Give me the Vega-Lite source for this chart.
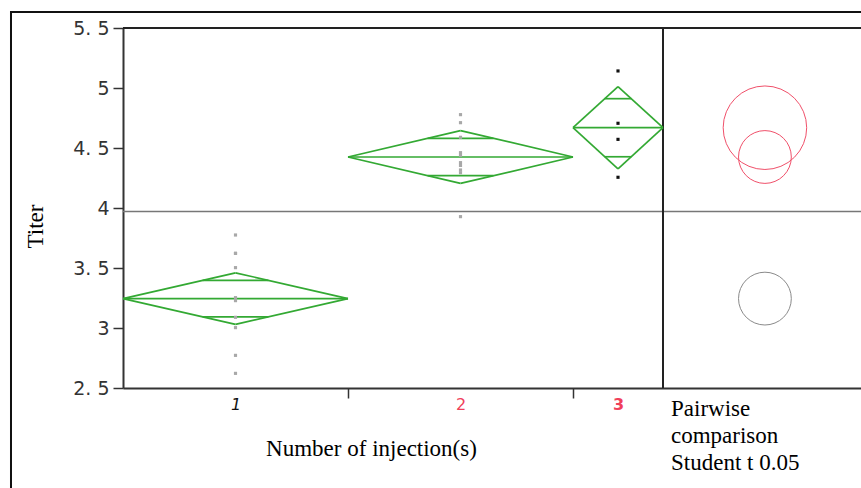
{
  "$schema": "https://vega.github.io/schema/vega-lite/v6.json",
  "width": 738,
  "height": 360,
  "autosize": {"type": "none"},
  "padding": {"left": 123, "top": 28, "right": 0, "bottom": 100},
  "background": "white",
  "config": {"view": {"stroke": null}},
  "datasets": {
    "points": [
      {"group": "1", "center": 5, "titer": 3.775},
      {"group": "1", "center": 5, "titer": 3.622},
      {"group": "1", "center": 5, "titer": 3.622},
      {"group": "1", "center": 5, "titer": 3.503},
      {"group": "1", "center": 5, "titer": 3.253},
      {"group": "1", "center": 5, "titer": 3.228},
      {"group": "1", "center": 5, "titer": 3.089},
      {"group": "1", "center": 5, "titer": 3.003},
      {"group": "1", "center": 5, "titer": 2.772},
      {"group": "1", "center": 5, "titer": 2.622},
      {"group": "2", "center": 15, "titer": 4.778},
      {"group": "2", "center": 15, "titer": 4.711},
      {"group": "2", "center": 15, "titer": 4.589},
      {"group": "2", "center": 15, "titer": 4.461},
      {"group": "2", "center": 15, "titer": 4.439},
      {"group": "2", "center": 15, "titer": 4.378},
      {"group": "2", "center": 15, "titer": 4.355},
      {"group": "2", "center": 15, "titer": 4.317},
      {"group": "2", "center": 15, "titer": 4.294},
      {"group": "2", "center": 15, "titer": 3.928},
      {"group": "3", "center": 22, "titer": 5.142},
      {"group": "3", "center": 22, "titer": 4.706},
      {"group": "3", "center": 22, "titer": 4.572},
      {"group": "3", "center": 22, "titer": 4.256}
    ],
    "groups": [
      {"group": "1", "n": 10, "x0": 0, "x1": 10, "center": 5, "mean": 3.245, "upper": 3.46, "lower": 3.03, "ovu": 3.397, "ovl": 3.093, "ox0": 3.54, "ox1": 6.46, "radius": 0.22},
      {"group": "2", "n": 10, "x0": 10, "x1": 20, "center": 15, "mean": 4.425, "upper": 4.645, "lower": 4.205, "ovu": 4.581, "ovl": 4.269, "ox0": 13.54, "ox1": 16.46, "radius": 0.22},
      {"group": "3", "n": 4, "x0": 20, "x1": 24, "center": 22, "mean": 4.669, "upper": 5.011, "lower": 4.327, "ovu": 4.911, "ovl": 4.427, "ox0": 21.41, "ox1": 22.59, "radius": 0.348}
    ]
  },
  "layer": [
    {
      "data": {"values": [{}]},
      "mark": {"type": "rect", "fill": null, "stroke": "#111", "strokeWidth": 2, "clip": false},
      "encoding": {
        "x": {"datum": -4.978, "type": "quantitative"},
        "x2": {"datum": 34},
        "y": {"datum": 5.633, "type": "quantitative"},
        "y2": {"datum": 1.3}
      }
    },
    {
      "data": {"values": [{}]},
      "mark": {"type": "rule", "color": "#777", "strokeWidth": 1.5},
      "encoding": {"y": {"datum": 3.97, "type": "quantitative"}}
    },
    {
      "data": {"values": [{}]},
      "mark": {"type": "rule", "color": "#222", "strokeWidth": 2},
      "encoding": {"y": {"datum": 5.5, "type": "quantitative"}}
    },
    {
      "data": {"values": [{}]},
      "mark": {"type": "rule", "color": "#222", "strokeWidth": 2},
      "encoding": {"x": {"datum": 24, "type": "quantitative"}}
    },
    {
      "data": {"name": "groups"},
      "mark": {"type": "rule", "color": "#33a933", "strokeWidth": 1.7},
      "encoding": {"x": {"field": "x0", "type": "quantitative"}, "y": {"field": "mean", "type": "quantitative"}, "x2": {"field": "center"}, "y2": {"field": "upper"}}
    },
    {
      "data": {"name": "groups"},
      "mark": {"type": "rule", "color": "#33a933", "strokeWidth": 1.7},
      "encoding": {"x": {"field": "center", "type": "quantitative"}, "y": {"field": "upper", "type": "quantitative"}, "x2": {"field": "x1"}, "y2": {"field": "mean"}}
    },
    {
      "data": {"name": "groups"},
      "mark": {"type": "rule", "color": "#33a933", "strokeWidth": 1.7},
      "encoding": {"x": {"field": "x1", "type": "quantitative"}, "y": {"field": "mean", "type": "quantitative"}, "x2": {"field": "center"}, "y2": {"field": "lower"}}
    },
    {
      "data": {"name": "groups"},
      "mark": {"type": "rule", "color": "#33a933", "strokeWidth": 1.7},
      "encoding": {"x": {"field": "center", "type": "quantitative"}, "y": {"field": "lower", "type": "quantitative"}, "x2": {"field": "x0"}, "y2": {"field": "mean"}}
    },
    {
      "data": {"name": "groups"},
      "mark": {"type": "rule", "color": "#33a933", "strokeWidth": 1.7},
      "encoding": {"x": {"field": "x0", "type": "quantitative"}, "x2": {"field": "x1"}, "y": {"field": "mean", "type": "quantitative"}}
    },
    {
      "data": {"name": "groups"},
      "mark": {"type": "rule", "color": "#33a933", "strokeWidth": 1.7},
      "encoding": {"x": {"field": "ox0", "type": "quantitative"}, "x2": {"field": "ox1"}, "y": {"field": "ovu", "type": "quantitative"}}
    },
    {
      "data": {"name": "groups"},
      "mark": {"type": "rule", "color": "#33a933", "strokeWidth": 1.7},
      "encoding": {"x": {"field": "ox0", "type": "quantitative"}, "x2": {"field": "ox1"}, "y": {"field": "ovl", "type": "quantitative"}}
    },
    {
      "data": {"name": "groups"},
      "mark": {"type": "point", "filled": false, "strokeWidth": 1, "opacity": 1},
      "encoding": {
        "x": {"datum": 28.53, "type": "quantitative"},
        "y": {"field": "mean", "type": "quantitative"},
        "size": {"field": "radius", "type": "quantitative", "scale": {"type": "pow", "exponent": 2, "domain": [0, 1], "range": [0, 57600]}, "legend": null},
        "color": {"condition": {"test": "datum.group == '1'", "value": "#8a8a8a"}, "value": "#f0506a"}
      }
    },
    {
      "data": {"name": "points"},
      "mark": {"type": "square", "size": 10, "opacity": 1},
      "encoding": {
        "x": {
          "field": "center", "type": "quantitative",
          "scale": {"domain": [0, 32.8], "nice": false, "zero": false},
          "axis": {
            "title": "Number of injection(s)",
            "values": [5, 10, 15, 20, 22],
            "labelExpr": "datum.value == 5 ? '1' : datum.value == 15 ? '2' : datum.value == 22 ? '3' : ''",
            "tickOpacity": {"condition": {"test": "datum.value == 10 || datum.value == 20", "value": 1}, "value": 0},
            "tickSize": 10, "tickWidth": 1.5, "tickColor": "#333",
            "domainColor": "#333", "domainWidth": 2,
            "grid": false,
            "labelFont": "DejaVu Sans", "labelFontSize": 16,
            "labelColor": {"condition": {"test": "datum.value == 5", "value": "#111"}, "value": "#f0405a"},
            "labelFontStyle": {"condition": {"test": "datum.value == 5", "value": "italic"}, "value": "normal"},
            "labelFontWeight": {"condition": {"test": "datum.value == 22", "value": "bold"}, "value": "normal"},
            "labelPadding": -2, "labelBaseline": "top", "labelFlush": false, "labelOverlap": false,
            "titleFont": "Liberation Serif", "titleFontSize": 23, "titleFontWeight": "normal", "titleColor": "#000",
            "titleX": 248, "titleY": 67, "titleBaseline": "alphabetic", "titleAlign": "center", "titleAnchor": null
          }
        },
        "y": {
          "field": "titer", "type": "quantitative",
          "scale": {"domain": [2.5, 5.5], "nice": false, "zero": false},
          "axis": {
            "title": "Titer",
            "values": [2.5, 3, 3.5, 4, 4.5, 5, 5.5],
            "labelExpr": "replace(format(datum.value, ''), '.', '. ')",
            "tickSize": 10, "tickWidth": 1.5, "tickColor": "#333",
            "domainColor": "#333", "domainWidth": 2,
            "grid": false,
            "labelFont": "DejaVu Sans", "labelFontSize": 19, "labelColor": "#333", "labelPadding": 4,
            "labelFlush": false, "labelOverlap": false,
            "titleFont": "Liberation Serif", "titleFontSize": 23, "titleFontWeight": "normal", "titleColor": "#000",
            "titleAngle": 270, "titleX": -88, "titleY": 198, "titleAlign": "center", "titleBaseline": "middle"
          }
        },
        "color": {"condition": {"test": "datum.group == '3'", "value": "#111"}, "value": "#a8a8a8"}
      }
    },
    {
      "data": {"values": [{}]},
      "mark": {"type": "text", "align": "left", "baseline": "alphabetic", "dx": 8, "dy": 28, "lineHeight": 27, "font": "Liberation Serif", "fontSize": 23, "color": "#000", "clip": false, "text": ["Pairwise", "comparison", "Student t 0.05"]},
      "encoding": {"x": {"datum": 24, "type": "quantitative"}, "y": {"datum": 2.5, "type": "quantitative"}}
    }
  ]
}
